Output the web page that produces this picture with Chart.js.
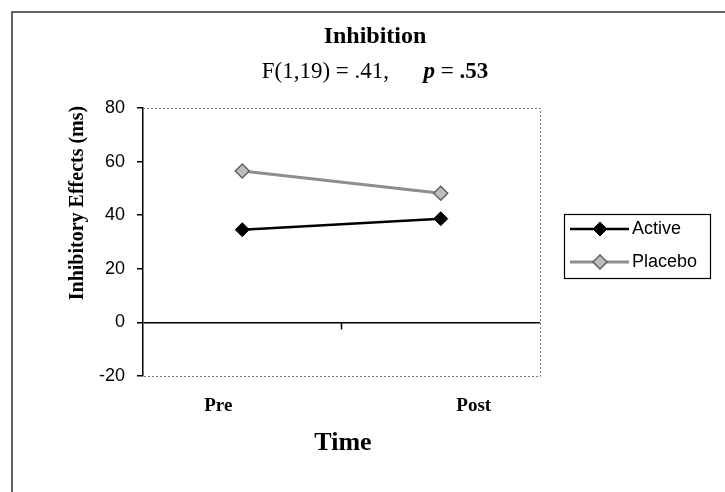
<!DOCTYPE html>
<html><head><meta charset="utf-8">
<script src="https://cdn.jsdelivr.net/npm/chart.js@4"></script>
<style>html,body{margin:0;padding:0;background:#fff}#wrap{width:725px;height:492px;position:relative}</style>
</head><body><div id="wrap"><canvas id="c"></canvas></div>
<script>
const categories = ['Pre', 'Post'];
const activeValues = [34.6, 38.7];
const placeboValues = [56.5, 48.2];
const yTickValues = [-20, 0, 20, 40, 60, 80];
const seriesNames = ['Active', 'Placebo'];
const titleText = 'Inhibition';
const yTitleText = 'Inhibitory Effects (ms)';
const xTitleText = 'Time';

const SERIF = '"Liberation Serif", "Times New Roman", serif';
const SANS = '"Liberation Sans", Arial, sans-serif';

const styles = [
  {line: '#000000', lineWidth: 2.5, fill: '#000000', border: '#000000', bw: 1, r: 7},
  {line: '#8e8e8e', lineWidth: 3, fill: '#bdbdbd', border: '#626262', bw: 1.5, r: 7}
];

function drawMarker(ctx, x, y, s) {
  ctx.save();
  ctx.beginPath();
  ctx.moveTo(x, y - s.r); ctx.lineTo(x + s.r, y); ctx.lineTo(x, y + s.r); ctx.lineTo(x - s.r, y); ctx.closePath();
  ctx.fillStyle = s.fill; ctx.fill();
  ctx.lineWidth = s.bw; ctx.strokeStyle = s.border; ctx.stroke();
  ctx.restore();
}

const decor = {
  id: 'decor',
  beforeDatasetsDraw(chart) {
    const {ctx, chartArea: a} = chart;
    ctx.save();
    ctx.strokeStyle = '#7a7a7a';
    ctx.lineWidth = 1;
    ctx.setLineDash([2, 2]);
    ctx.beginPath();
    ctx.moveTo(a.left, a.top + 0.5); ctx.lineTo(a.right + 0.5, a.top + 0.5);
    ctx.lineTo(a.right + 0.5, a.bottom + 0.5); ctx.lineTo(a.left, a.bottom + 0.5);
    ctx.stroke();
    ctx.setLineDash([]);
    const x = chart.scales.x, y = chart.scales.y;
    const y0 = y.getPixelForValue(0);
    const xm = x.getPixelForValue(0.5);
    ctx.strokeStyle = '#000'; ctx.lineWidth = 1.5;
    ctx.beginPath(); ctx.moveTo(xm, y0); ctx.lineTo(xm, y0 + 7); ctx.stroke();
    ctx.restore();
  },
  afterDraw(chart) {
    const {ctx} = chart;
    const x = chart.scales.x;
    ctx.save();
    ctx.strokeStyle = '#333'; ctx.lineWidth = 1.5;
    ctx.beginPath(); ctx.moveTo(12, 492); ctx.lineTo(12, 12); ctx.lineTo(725, 12); ctx.stroke();
    ctx.fillStyle = '#000';
    ctx.textBaseline = 'middle';
    ctx.textAlign = 'center';
    ctx.font = 'bold 24px ' + SERIF;
    ctx.fillText(titleText, 375, 37);
    const parts = [
      {t: 'F(1,19) = .41,', f: '23px ' + SERIF},
      {t: '      ', f: '23px ' + SERIF},
      {t: 'p', f: 'italic bold 23px ' + SERIF},
      {t: ' = ', f: '23px ' + SERIF},
      {t: '.53', f: 'bold 23px ' + SERIF}
    ];
    let total = 0;
    parts.forEach(p => { ctx.font = p.f; p.w = ctx.measureText(p.t).width; total += p.w; });
    let sx = 375 - total / 2;
    ctx.textAlign = 'left';
    parts.forEach(p => { ctx.font = p.f; ctx.fillText(p.t, sx, 72); sx += p.w; });
    ctx.save();
    ctx.translate(78, 203);
    ctx.rotate(-Math.PI / 2);
    ctx.textAlign = 'center';
    ctx.font = 'bold 20px ' + SERIF;
    ctx.fillText(yTitleText, 0, 0);
    ctx.restore();
    ctx.textAlign = 'center';
    ctx.font = 'bold 19px ' + SERIF;
    const labelShift = [-24, 33];
    categories.forEach((c, i) => {
      ctx.fillText(c, x.getPixelForValue(i) + labelShift[i], 406);
    });
    ctx.font = 'bold 26px ' + SERIF;
    ctx.fillText(xTitleText, 343, 443);
    ctx.strokeStyle = '#000'; ctx.lineWidth = 1.2;
    ctx.strokeRect(564.5, 214.5, 146, 64);
    ctx.font = '18px ' + SANS;
    ctx.textAlign = 'left';
    seriesNames.forEach((n, i) => {
      const s = styles[i];
      const ly = 229 + i * 33;
      ctx.strokeStyle = s.line; ctx.lineWidth = s.lineWidth;
      ctx.beginPath(); ctx.moveTo(570, ly); ctx.lineTo(629, ly); ctx.stroke();
      drawMarker(ctx, 600, ly, s);
      ctx.fillStyle = '#000';
      ctx.fillText(n, 632, ly);
    });
    ctx.restore();
  }
};

const mkDs = (label, data, s) => ({
  label, data,
  borderColor: s.line, borderWidth: s.lineWidth,
  pointStyle: 'rectRot', pointRadius: s.r, pointHoverRadius: s.r,
  pointBackgroundColor: s.fill, pointBorderColor: s.border, pointBorderWidth: s.bw,
  tension: 0, clip: false
});

new Chart(document.getElementById('c'), {
  type: 'line',
  data: {
    labels: categories,
    datasets: [mkDs(seriesNames[0], activeValues, styles[0]), mkDs(seriesNames[1], placeboValues, styles[1])]
  },
  options: {
    responsive: true, maintainAspectRatio: false, animation: false,
    layout: {padding: {top: 108, right: 185, left: 0, bottom: 0}},
    plugins: {legend: {display: false}, title: {display: false}, tooltip: {enabled: false}},
    scales: {
      x: {
        type: 'category', offset: true,
        grid: {display: false}, border: {display: false},
        ticks: {display: false},
        afterFit(s) { s.height = 116; }
      },
      y: {
        min: -20, max: 80,
        afterBuildTicks(s) { s.ticks = yTickValues.map(v => ({value: v})); },
        afterFit(s) { s.width = 143; },
        border: {display: true, color: '#000', width: 1.5},
        grid: {
          drawOnChartArea: true, drawTicks: true, tickLength: 6,
          color: c => (c.tick && c.tick.value === 0) ? '#000' : 'rgba(0,0,0,0)',
          lineWidth: 1.5, tickColor: '#000', tickWidth: 1.5
        },
        ticks: {color: '#000', font: {family: SANS, size: 18}, padding: 12}
      }
    }
  },
  plugins: [decor]
});
</script>
</body></html>
